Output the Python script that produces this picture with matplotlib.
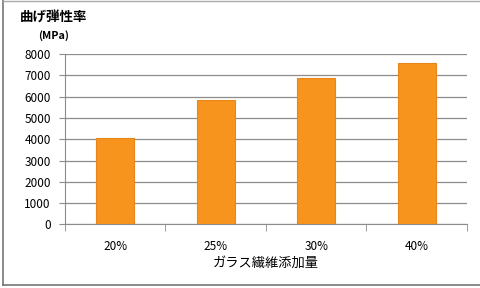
import matplotlib
matplotlib.use('Agg')
import matplotlib.pyplot as plt
from matplotlib.lines import Line2D

plt.rcParams['font.family'] = ['Noto Sans CJK JP', 'DejaVu Sans']

# glass fibre content vs flexural modulus
categories = ['20%', '25%', '30%', '40%']
modulus = [4080, 5850, 6870, 7570]
yticks = [0, 1000, 2000, 3000, 4000, 5000, 6000, 7000, 8000]

fig = plt.figure(figsize=(4.8, 2.88), dpi=100)
ax = fig.add_axes([0.135, 0.221, 0.838, 0.591])

x = list(range(len(categories)))
ax.bar(x, modulus, width=0.38, color='#F7941E', edgecolor='#E8861A', linewidth=0.8, zorder=3)

ax.set_xlim(-0.5, len(categories) - 0.5)
ax.set_ylim(0, 8000)
ax.set_yticks(yticks)
ax.yaxis.grid(True, color='#8c8c8c', linewidth=0.9, zorder=0)

ax.set_xticks(x)
ax.set_xticklabels(categories, fontsize=8.5)
ax.set_xticks([i - 0.5 for i in range(len(categories) + 1)], minor=True)
ax.tick_params(axis='x', which='major', length=0, pad=11)
ax.tick_params(axis='x', which='minor', length=5, color='#8c8c8c')
ax.tick_params(axis='y', length=4, color='#8c8c8c', labelsize=8.5, pad=6)

for s in ['top', 'right']:
    ax.spines[s].set_visible(False)
ax.spines['left'].set_color('#8c8c8c')
ax.spines['bottom'].set_color('#8c8c8c')

ax.set_xlabel('ガラス繊維添加量', fontsize=9.5, labelpad=3)

fig.text(0.042, 0.94, '曲げ弾性率', fontsize=9.7, fontweight='bold', va='center')
fig.text(0.079, 0.878, '(MPa)', fontsize=7.8, fontweight='bold', va='center')

# outer frame of the pasted chart
fig.add_artist(Line2D([0.006, 0.006], [0.01, 1.0], transform=fig.transFigure, color='#777777', lw=1.2))
fig.add_artist(Line2D([0.006, 1.0], [0.01, 0.01], transform=fig.transFigure, color='#777777', lw=1.2))
fig.add_artist(Line2D([0.006, 1.0], [0.998, 0.998], transform=fig.transFigure, color='#aaaaaa', lw=1.0))

fig.savefig('out.png', dpi=100)
